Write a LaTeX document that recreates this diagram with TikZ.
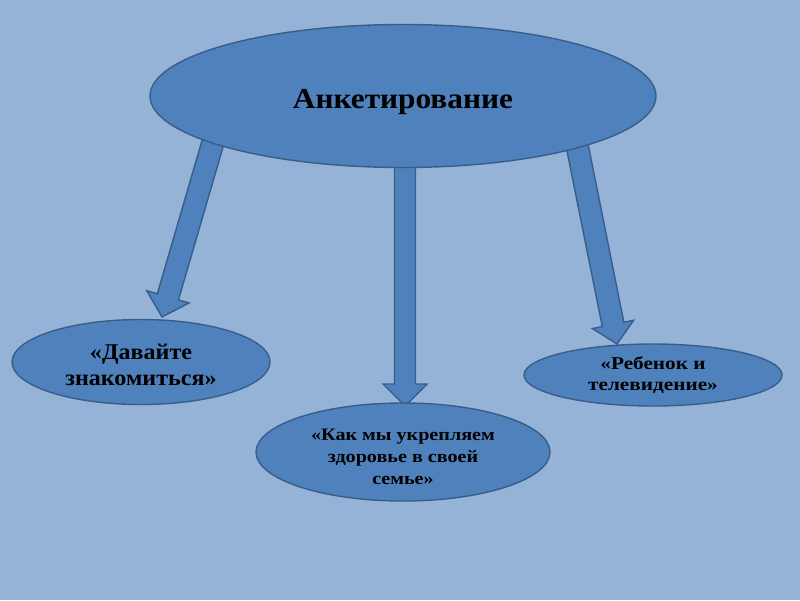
\documentclass[tikz,border=0pt]{standalone}
\usepackage{fontspec}
\setmainfont{Liberation Serif}
\newfontfamily\stA[FakeStretch=1.08]{Liberation Serif}
\newfontfamily\stB[FakeStretch=1.07]{Liberation Serif}
\newfontfamily\stC[FakeStretch=1.15]{Liberation Serif}
\newfontfamily\stD[FakeStretch=1.18]{Liberation Serif}
\usetikzlibrary{calc,shapes.geometric}
\definecolor{bg}{HTML}{95B3D7}
\definecolor{fillc}{HTML}{4F81BD}
\definecolor{edgec}{HTML}{385D8A}
\tikzset{
  oval/.style={ellipse, draw=edgec, line width=1.4pt, fill=fillc, inner sep=0pt},
  ovaltext/.style={inner sep=0pt, align=center},
  blockarrow/.style={draw=edgec, line width=1.4pt, fill=fillc, line join=miter}
}
\newcommand{\myblockarrow}[5]{% start, tip, shaft half width, head half width, head length
  \coordinate (hb) at ($(#2)!#5pt!(#1)$);
  \filldraw[blockarrow]
    ($(#1)!#3pt!90:(#2)$) -- ($(hb)!#3pt!-90:(#1)$) -- ($(hb)!#4pt!-90:(#1)$) -- (#2)
    -- ($(hb)!#4pt!90:(#1)$) -- ($(hb)!#3pt!90:(#1)$) -- ($(#1)!#3pt!-90:(#2)$) -- cycle;
}
\begin{document}
\begin{tikzpicture}[x=1pt,y=-1pt]
\fill[bg] (0,0) rectangle (800,600);
\useasboundingbox (0,0) rectangle (800,600);
% arrow endpoints
\coordinate (s1) at (218,125);
\coordinate (t1) at (162,317);
\coordinate (s2) at (405,130);
\coordinate (t2) at (405,406);
\coordinate (s3) at (573,125);
\coordinate (t3) at (617,344);
\myblockarrow{s1}{t1}{11}{22}{21}
\myblockarrow{s2}{t2}{10.5}{22}{22}
\myblockarrow{s3}{t3}{11}{21}{20}
\node[oval, minimum width=506pt, minimum height=143pt] (top) at (403,96) {};
\node[oval, minimum width=258pt, minimum height=85pt] (left) at (141,362) {};
\node[oval, minimum width=294pt, minimum height=98pt] (mid) at (403,452) {};
\node[oval, minimum width=258pt, minimum height=62pt] (right) at (653,375) {};
\node[ovaltext, font=\stA\bfseries\fontsize{29}{32}\selectfont, yshift=-6pt] (topt) at (top.center) {Анкетирование};
\node[ovaltext, font=\stB\bfseries\fontsize{22.5}{26}\selectfont, yshift=-2.5pt] (leftt) at (left.center) {«Давайте\\знакомиться»};
\node[ovaltext, font=\stC\bfseries\fontsize{17.5}{22}\selectfont, yshift=-5pt] (midt) at (mid.center) {«Как мы укрепляем\\здоровье в своей\\семье»};
\node[ovaltext, font=\stD\bfseries\fontsize{18}{21}\selectfont] (rightt) at (right.center) {«Ребенок и\\телевидение»};
\end{tikzpicture}
\end{document}
